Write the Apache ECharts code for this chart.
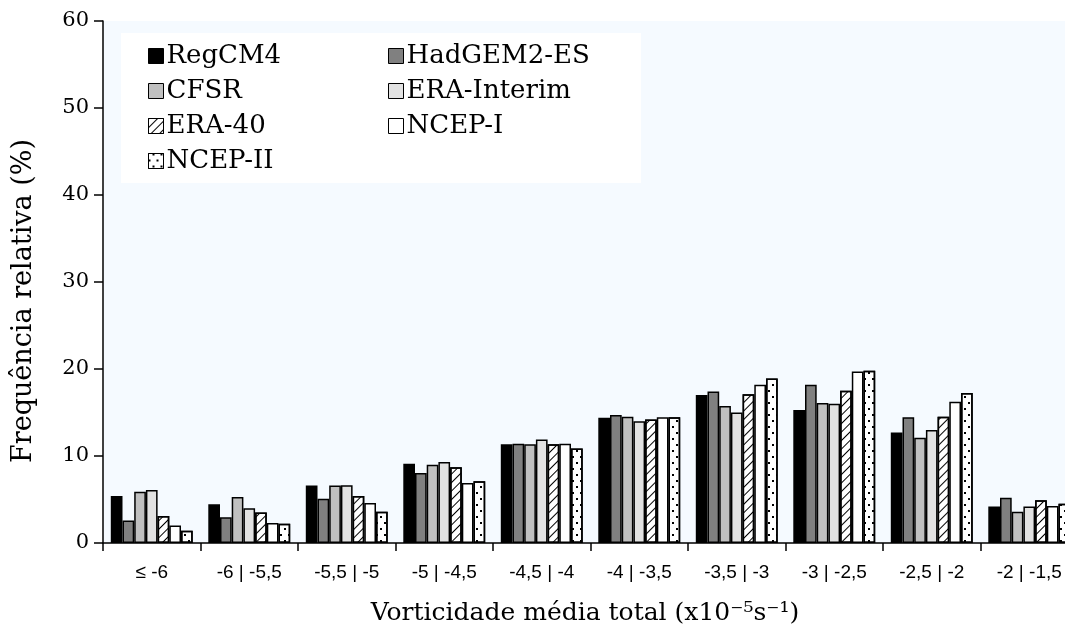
<!DOCTYPE html>
<html>
<head>
<meta charset="utf-8">
<script src="https://cdn.jsdelivr.net/npm/echarts@6/dist/echarts.min.js"></script>
<style>html,body{margin:0;padding:0;background:#fff;}#c{width:1065px;height:630px;}</style>
</head>
<body>
<div id="c"></div>
<script>
var categories = ['≤ -6', '-6 | -5,5', '-5,5 | -5', '-5 | -4,5', '-4,5 | -4', '-4 | -3,5', '-3,5 | -3', '-3 | -2,5', '-2,5 | -2', '-2 | -1,5'];
var seriesNames = ['RegCM4', 'HadGEM2-ES', 'CFSR', 'ERA-Interim', 'ERA-40', 'NCEP-I', 'NCEP-II'];
var regcm4     = [5.4, 4.45, 6.6, 9.1, 11.35, 14.4, 17.0, 15.3, 12.7, 4.2];
var hadgem2es  = [2.6, 2.95, 5.1, 8.05, 11.4, 14.7, 17.4, 18.2, 14.45, 5.2];
var cfsr       = [5.9, 5.3, 6.6, 9.0, 11.35, 14.5, 15.75, 16.1, 12.1, 3.6];
var eraInterim = [6.1, 4.0, 6.65, 9.3, 11.9, 14.0, 15.0, 16.0, 13.0, 4.2];
var era40      = [3.1, 3.5, 5.4, 8.7, 11.35, 14.2, 17.1, 17.5, 14.5, 4.9];
var ncep1      = [2.0, 2.3, 4.6, 6.9, 11.4, 14.45, 18.2, 19.7, 16.25, 4.25];
var ncep2      = [1.4, 2.2, 3.6, 7.1, 10.85, 14.45, 18.9, 19.8, 17.25, 4.5];
var yTicks = [0, 10, 20, 30, 40, 50, 60];

var FONT = 'DejaVu Serif';
var SANS = 'Liberation Sans';
var values = [regcm4, hadgem2es, cfsr, eraInterim, era40, ncep1, ncep2];
var fills = ['#000000', '#808080', '#C0C0C0', '#E2E2E2', '#FFFFFF', '#FFFFFF', '#FFFFFF'];
var decals = [null, null, null, null,
  {symbol: 'rect', color: '#000', dashArrayX: [1, 0], dashArrayY: [1, 4.5], rotation: -Math.PI / 4},
  null,
  {symbol: 'rect', color: '#000', symbolSize: 1, dashArrayX: [[2, 6], [0, 4, 2, 2]], dashArrayY: [2, 4]}
];

var series = seriesNames.map(function (n, i) {
  var st = {color: fills[i], borderColor: '#000', borderWidth: 1.5};
  if (decals[i]) st.decal = decals[i];
  return {
    name: n, type: 'bar', data: values[i],
    barGap: '0%', barCategoryGap: '16%',
    itemStyle: st
  };
});

var chart = echarts.init(document.getElementById('c'), null, {renderer: 'canvas'});
var legendCommon = {
  orient: 'vertical', itemWidth: 15, itemHeight: 15, itemGap: 9,
  icon: 'rect',
  textStyle: {fontFamily: FONT, fontSize: 26, color: '#000', padding: [0, 0, 0, -2]},
  itemStyle: {borderColor: '#000', borderWidth: 1}
};
chart.setOption({
  animation: false,
  backgroundColor: '#fff',
  graphic: [{type: 'rect', left: 121, top: 33, shape: {width: 520, height: 150}, style: {fill: '#fff'}, z: 5}],
  legend: [
    Object.assign({left: 143, top: 38, data: ['RegCM4', 'CFSR', 'ERA-40', 'NCEP-II'], z: 10}, legendCommon),
    Object.assign({left: 383, top: 38, data: ['HadGEM2-ES', 'ERA-Interim', 'NCEP-I'], z: 10}, legendCommon)
  ],
  grid: {left: 103, top: 21, width: 975, bottom: 87, show: true, backgroundColor: '#F5FAFF', borderWidth: 0,
    containLabel: false, outerBoundsMode: 'none'},
  xAxis: {
    type: 'category', data: categories,
    name: 'Vorticidade média total (x10⁻⁵s⁻¹)',
    nameLocation: 'middle', nameGap: 58,
    nameTextStyle: {fontFamily: FONT, fontSize: 25, color: '#000', padding: [0, 11, 0, 0]},
    axisLine: {lineStyle: {color: '#000', width: 1.5}},
    axisTick: {show: true, inside: false, length: 8, alignWithLabel: false, lineStyle: {color: '#000', width: 1.5}},
    axisLabel: {interval: 0, margin: 20, fontFamily: SANS, fontSize: 19, color: '#000'},
    splitLine: {show: false}
  },
  yAxis: {
    type: 'value', min: 0, max: 60, interval: 10,
    name: 'Frequência relativa (%)',
    nameLocation: 'middle', nameGap: 66, nameRotate: 90,
    nameTextStyle: {fontFamily: FONT, fontSize: 27, color: '#000', padding: [0, 38, 0, 0]},
    axisLine: {show: true, lineStyle: {color: '#000', width: 1.5}},
    axisTick: {show: true, inside: false, length: 9, lineStyle: {color: '#000', width: 1.5}},
    axisLabel: {margin: 14, fontFamily: FONT, fontSize: 21, color: '#000',
      formatter: function (v) { return yTicks.indexOf(v) >= 0 ? String(v) : ''; }},
    splitLine: {show: false}
  },
  series: series
});
</script>
</body>
</html>
